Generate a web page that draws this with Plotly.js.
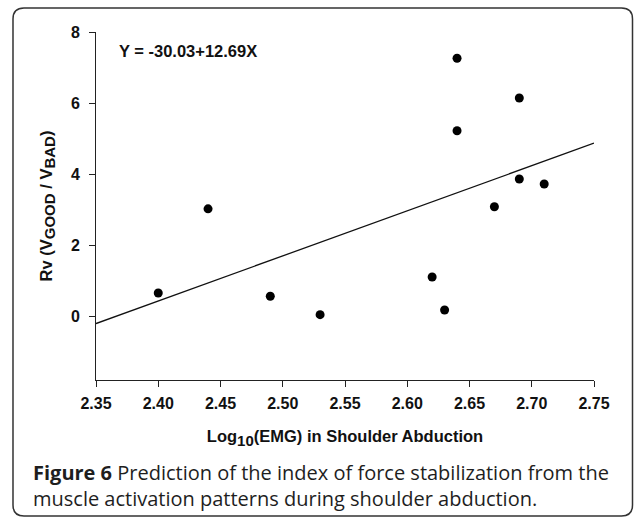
<!DOCTYPE html>
<html>
<head>
<meta charset="utf-8">
<script src="https://cdn.plot.ly/plotly-3.0.1.min.js"></script>
<style>
html,body{margin:0;padding:0;background:#fff;}
#chart{width:634px;height:518px;}
</style>
</head>
<body>
<div id="chart"></div>
<script>
// Data
var emgLog = [2.40, 2.44, 2.49, 2.53, 2.62, 2.63, 2.64, 2.64, 2.67, 2.69, 2.69, 2.71];
var rv     = [0.65, 3.02, 0.56, 0.04, 1.10, 0.17, 7.26, 5.22, 3.08, 6.14, 3.86, 3.72];
// Regression line endpoints (Y = -30.03 + 12.69X) at the axis ends
var fitX = [2.35, 2.75];
var fitY = [-0.21, 4.87];
var xTicks = [2.35, 2.40, 2.45, 2.50, 2.55, 2.60, 2.65, 2.70, 2.75];
var xTickText = ["2.35", "2.40", "2.45", "2.50", "2.55", "2.60", "2.65", "2.70", "2.75"];
var yTicks = [0, 2, 4, 6, 8];
var equationText = "Y = -30.03+12.69X";
var captionBold = "Figure 6";
var captionLine1 = " Prediction of the index of force stabilization from the";
var captionLine2 = "muscle activation patterns during shoulder abduction.";

var W = 634, H = 518;
var L = 96, R = 594, T = 32, B = 380;
function px(xp){ return (xp - L) / (R - L); }
function py(yp){ return (B - yp) / (B - T); }

// rounded frame path in paper coords
function framePath(x0, y0, x1, y1, r){
  function P(x, y){ return px(x).toFixed(5) + ',' + py(y).toFixed(5); }
  return 'M' + P(x0 + r, y0) + ' L' + P(x1 - r, y0) + ' Q' + P(x1, y0) + ' ' + P(x1, y0 + r) +
         ' L' + P(x1, y1 - r) + ' Q' + P(x1, y1) + ' ' + P(x1 - r, y1) +
         ' L' + P(x0 + r, y1) + ' Q' + P(x0, y1) + ' ' + P(x0, y1 - r) +
         ' L' + P(x0, y0 + r) + ' Q' + P(x0, y0) + ' ' + P(x0 + r, y0) + ' Z';
}

var fam = 'Liberation Sans, Arial, sans-serif';
var axisFont = {family: fam, size: 16.5, color: '#111'};
var capFont = {family: 'Open Sans, Noto Sans, sans-serif', size: 20, color: '#1e1e1e'};

var traces = [
  {x: fitX, y: fitY, mode: 'lines', type: 'scatter',
   line: {color: '#111', width: 1.3}, hoverinfo: 'skip', showlegend: false, cliponaxis: false},
  {x: emgLog, y: rv, mode: 'markers', type: 'scatter',
   marker: {color: '#000', size: 9, symbol: 'circle'}, showlegend: false, cliponaxis: false}
];

var layout = {
  width: W, height: H,
  margin: {l: L, r: W - R, t: T, b: H - B, pad: 0},
  paper_bgcolor: '#fff', plot_bgcolor: '#fff',
  showlegend: false,
  xaxis: {
    range: [2.35, 2.75], tickmode: 'array', tickvals: xTicks, ticktext: xTickText,
    showgrid: false, zeroline: false, showline: true, linecolor: '#222', linewidth: 1,
    ticks: 'outside', ticklen: 6, tickwidth: 1, tickcolor: '#222', ticklabelstandoff: 3,
    tickfont: {family: fam, size: 16, color: '#111', weight: 'bold'},
    title: {text: '<b>Log<sub><span style="font-size:15px">10</span></sub>(EMG) in Shoulder Abduction</b>', font: axisFont, standoff: 19},
    fixedrange: true
  },
  yaxis: {
    range: [-1.8, 8], tickmode: 'array', tickvals: yTicks,
    showgrid: false, zeroline: false, showline: true, linecolor: '#222', linewidth: 1,
    ticks: 'outside', ticklen: 6, tickwidth: 1, tickcolor: '#222', ticklabelstandoff: 6,
    tickfont: {family: fam, size: 16, color: '#111', weight: 'bold'},
    title: {text: '<b>Rv (V<sub><span style="font-size:15px">GOOD</span></sub> / V<sub><span style="font-size:15px">BAD</span></sub>)</b>', font: axisFont, standoff: 14},
    fixedrange: true
  },
  annotations: [
    {xref: 'paper', yref: 'paper', x: px(117), y: py(51), xanchor: 'left', yanchor: 'middle',
     text: '<b>' + equationText + '</b>', showarrow: false,
     font: {family: fam, size: 16.5, color: '#111'}},
    {xref: 'paper', yref: 'paper', x: px(31), y: py(472), xanchor: 'left', yanchor: 'middle',
     text: '<b>' + captionBold + '</b>' + captionLine1, showarrow: false, font: capFont},
    {xref: 'paper', yref: 'paper', x: px(31), y: py(498), xanchor: 'left', yanchor: 'middle',
     text: captionLine2, showarrow: false, font: capFont}
  ],
  shapes: [
    {type: 'path', xref: 'paper', yref: 'paper', path: framePath(13, 8, 632.5, 516, 11),
     line: {color: '#333', width: 1.5}, fillcolor: 'rgba(0,0,0,0)', layer: 'below'}
  ]
};

Plotly.newPlot('chart', traces, layout, {displayModeBar: false, staticPlot: true});
</script>
</body>
</html>
